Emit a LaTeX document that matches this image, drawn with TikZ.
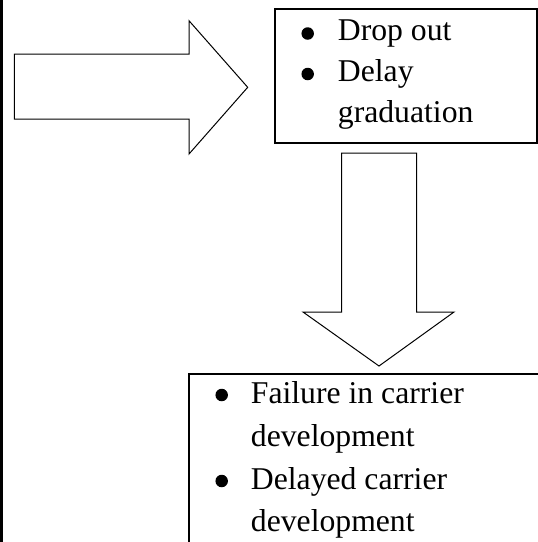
\documentclass[tikz,border=0pt]{standalone}
\usepackage{fontspec}
\setmainfont{Liberation Serif}
\begin{document}
\begin{tikzpicture}[x=1pt,y=-1pt,
  txt/.style={anchor=base west,inner sep=0pt,font=\fontsize{31.7}{38}\selectfont},
  blt/.style={circle,fill=black,inner sep=0pt,minimum size=12.5pt},
  boxline/.style={draw=black,line width=2pt},
  arrowshape/.style={draw=black,line width=1pt,line join=miter,fill=white}]
\useasboundingbox (0,0) rectangle (538,542);
\clip (0,0) rectangle (538,542);
\fill[white] (0,0) rectangle (538,542);
% left border line
\coordinate (lt) at (1.5,0);
\coordinate (lb) at (1.5,542);
\draw[line width=3pt] (lt) -- (lb);
% right block arrow
\draw[arrowshape] (14.3,54) -- (189,54) -- (189,20.7) -- (247.7,87.3) -- (189,154) -- (189,119) -- (14.3,119) -- cycle;
% top box
\node[boxline,anchor=north west,minimum width=262pt,minimum height=133.4pt,inner sep=0pt] (top) at (274,8.3) {};
\node[blt] (b1) at (307.7,33.5) {};
\node[txt] (t1) at (337.7,40.7) {Drop out};
\node[blt] (b2) at (307.7,74) {};
\node[txt] (t2) at (337.7,81.5) {Delay};
\node[txt] (t3) at (337.7,122.7) {graduation};
% down block arrow
\draw[arrowshape] (341.7,153) -- (416.7,153) -- (416.7,312) -- (454,312) -- (379,366) -- (303,312) -- (341.7,312) -- cycle;
% bottom box
\node[boxline,anchor=north west,minimum width=360pt,minimum height=200pt,inner sep=0pt] (bot) at (187.7,372.7) {};
\node[blt] (b3) at (221.7,395) {};
\node[txt] (u1) at (250.7,403.5) {Failure in carrier};
\node[txt] (u2) at (250.7,446) {development};
\node[blt] (b4) at (221.7,481) {};
\node[txt] (u3) at (250.7,489.5) {Delayed carrier};
\node[txt] (u4) at (250.7,531) {development};
\end{tikzpicture}
\end{document}
